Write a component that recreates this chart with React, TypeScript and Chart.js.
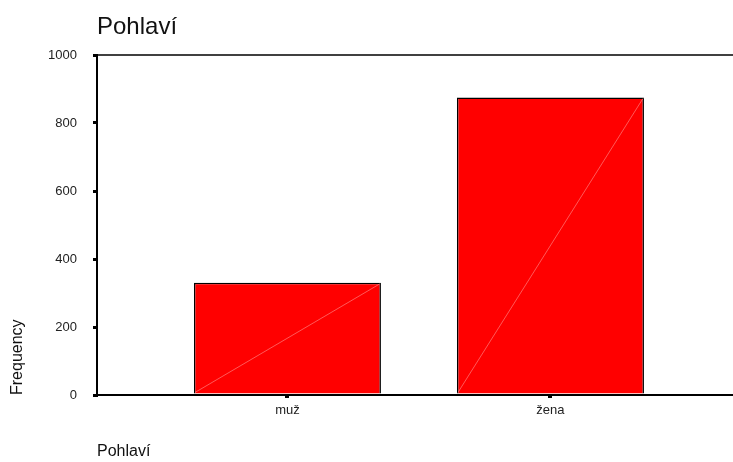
import React, { useEffect, useRef } from "react";
import { Chart, registerables } from "chart.js";

Chart.register(...registerables);

const chartTitle = "Pohlaví";
const categories = ["muž", "žena"];
const frequencies = [330, 875];
const yTicks = [0, 200, 400, 600, 800, 1000];
const xAxisTitle = "Pohlaví";
const yAxisTitle = "Frequency";

const FONT = "'Liberation Sans', Arial, Helvetica, sans-serif";

const decorPlugin = {
  id: "spssDecor",
  afterDatasetsDraw(chart: any) {
    const { ctx, chartArea } = chart;
    const meta = chart.getDatasetMeta(0);
    ctx.save();
    ctx.strokeStyle = "rgba(255,140,140,0.9)";
    ctx.lineWidth = 0.7;
    meta.data.forEach((bar: any) => {
      const p = bar.getProps(["x", "y", "base", "width"], true);
      const l = p.x - p.width / 2 + 1;
      const r = p.x + p.width / 2 - 1;
      ctx.beginPath();
      ctx.moveTo(l, p.base - 1);
      ctx.lineTo(r, p.y + 1);
      ctx.stroke();
    });
    ctx.strokeStyle = "#000";
    ctx.lineWidth = 1.5;
    ctx.beginPath();
    ctx.moveTo(chartArea.left, chartArea.top);
    ctx.lineTo(chartArea.right, chartArea.top);
    ctx.stroke();
    ctx.fillStyle = "#111";
    ctx.font = `24px ${FONT}`;
    ctx.textAlign = "left";
    ctx.textBaseline = "alphabetic";
    ctx.fillText(chartTitle, chartArea.left, 34);
    ctx.restore();
  },
};

export default function App() {
  const ref = useRef<HTMLCanvasElement>(null);
  useEffect(() => {
    if (!ref.current) return;
    const chart = new Chart(ref.current, {
      type: "bar",
      data: {
        datasets: [
          {
            data: frequencies.map((v, i) => ({ x: i, y: v })),
            backgroundColor: "#ff0000",
            borderColor: "#000",
            borderWidth: 1.5,
            borderSkipped: "start",
            barPercentage: 0.711,
            categoryPercentage: 1,
          },
        ],
      },
      options: {
        responsive: false,
        animation: false,
        devicePixelRatio: 1,
        layout: { padding: { top: 55, left: 0, right: 0, bottom: 0 } },
        plugins: {
          legend: { display: false },
          tooltip: { enabled: false },
          title: { display: false },
        },
        scales: {
          x: {
            type: "linear",
            offset: false,
            min: -0.724,
            max: 1.694,
            afterBuildTicks: (s: any) => {
              s.ticks = categories.map((_, i) => ({ value: i }));
            },
            afterFit: (s: any) => {
              s.height = 67;
            },
            ticks: {
              autoSkip: false,
              maxRotation: 0,
              padding: 5,
              color: "#222",
              font: { family: FONT, size: 13 },
              callback: (v: any) => categories[v as number] ?? "",
            },
            grid: {
              offset: false,
              drawOnChartArea: false,
              drawTicks: true,
              tickLength: 3,
              lineWidth: 4,
              color: "#000",
            },
            border: { display: true, color: "#000", width: 2 },
            title: {
              display: true,
              text: xAxisTitle,
              align: "start",
              color: "#111",
              font: { family: FONT, size: 16 },
              padding: { top: 0, bottom: 1 },
            },
          },
          y: {
            min: 0,
            max: 1000,
            afterBuildTicks: (s: any) => {
              s.ticks = yTicks.map((v) => ({ value: v }));
            },
            afterFit: (s: any) => {
              s.width = 97;
            },
            ticks: {
              padding: 16,
              color: "#222",
              font: { family: FONT, size: 13 },
              callback: (v: any) => String(v),
            },
            grid: {
              drawOnChartArea: false,
              drawTicks: true,
              tickLength: 4,
              lineWidth: 3,
              color: "#000",
            },
            border: { display: true, color: "#000", width: 2 },
            title: {
              display: true,
              text: yAxisTitle,
              align: "start",
              color: "#111",
              font: { family: FONT, size: 16 },
              padding: { top: 8, bottom: 0 },
            },
          },
        },
      },
      plugins: [decorPlugin],
    } as any);
    return () => chart.destroy();
  }, []);
  return (
    <div style={{ position: "fixed", left: 0, top: 0, width: 733, height: 462, background: "#fff" }}>
      <canvas ref={ref} width={733} height={462} />
    </div>
  );
}
